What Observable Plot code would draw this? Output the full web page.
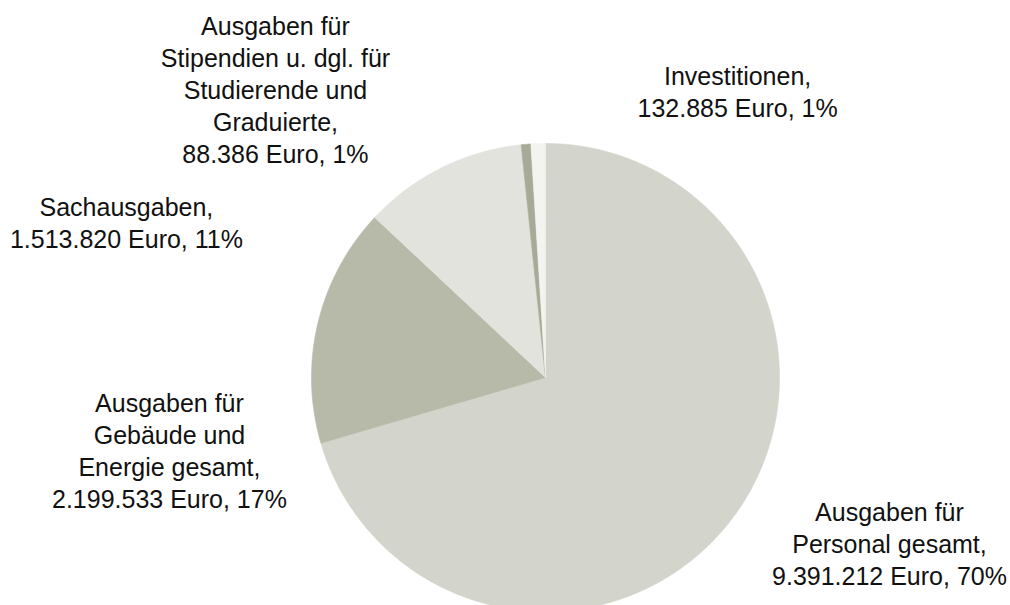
<!DOCTYPE html>
<html>
<head>
<meta charset="utf-8">
<script src="https://cdn.jsdelivr.net/npm/d3@7"></script>
<script src="https://cdn.jsdelivr.net/npm/@observablehq/plot@0.6"></script>
<style>
  body { margin: 0; background: #fff; overflow: hidden; }
  #chart svg { display: block; }
</style>
</head>
<body>
<div id="chart"></div>
<script>
// ---- data ----
const categories = [
  "Ausgaben für\nPersonal gesamt,",
  "Ausgaben für\nGebäude und\nEnergie gesamt,",
  "Sachausgaben,",
  "Ausgaben für\nStipendien u. dgl. für\nStudierende und\nGraduierte,",
  "Investitionen,"
];
const values = [9391212, 2199533, 1513820, 88386, 132885];
const colors = ["#d3d4cb", "#b8baa9", "#e3e3dd", "#a8aa98", "#f3f3f0"];

// label layout (in pie-radius units relative to centre)
const labelX = [1.470, -1.607, -1.791, -1.154, 0.821];
const labelY = [-0.705, -0.308, 0.667, 1.235, 1.227];

// ---- build ----
const de = d3.formatLocale({decimal: ",", thousands: ".", grouping: [3], currency: ["", " €"]});
const fmt = de.format(",d");
const total = d3.sum(values);
const rows = categories.map((c, i) => ({name: c, value: values[i], color: colors[i]}));
const arcs = d3.pie().sort(null).value(d => d.value)(rows);

const pts = [];
arcs.forEach(a => {
  const n = a.data.name;
  pts.push({name: n, x: 0, y: 0});
  const step = Math.PI / 360;
  for (let t = a.startAngle; t < a.endAngle; t += step) pts.push({name: n, x: Math.sin(t), y: Math.cos(t)});
  pts.push({name: n, x: Math.sin(a.endAngle), y: Math.cos(a.endAngle)});
  pts.push({name: n, x: 0, y: 0});
});

const labels = rows.map((r, i) => ({
  lx: labelX[i], ly: labelY[i],
  text: r.name + "\n" + fmt(r.value) + " Euro, " + Math.round(r.value / total * 100) + "%"
}));

const chart = Plot.plot({
  width: 1010,
  height: 605,
  margin: 0,
  x: {domain: [-1, 1], range: [311, 779], axis: null},
  y: {domain: [-1, 1], range: [611, 143], axis: null},
  color: {domain: categories, range: colors},
  style: {background: "#fff", overflow: "hidden"},
  marks: [
    Plot.line(pts, {x: "x", y: "y", z: "name", fill: "name", stroke: "name", strokeWidth: 0.6, curve: "linear"}),
    Plot.text(labels, {
      x: "lx", y: "ly", text: "text",
      fontSize: 25, lineHeight: 1.28, textAnchor: "middle", lineAnchor: "middle",
      fill: "#111", fontFamily: "'Helvetica Neue', 'Liberation Sans', Arial, sans-serif"
    })
  ]
});
document.getElementById("chart").appendChild(chart);
</script>
</body>
</html>
